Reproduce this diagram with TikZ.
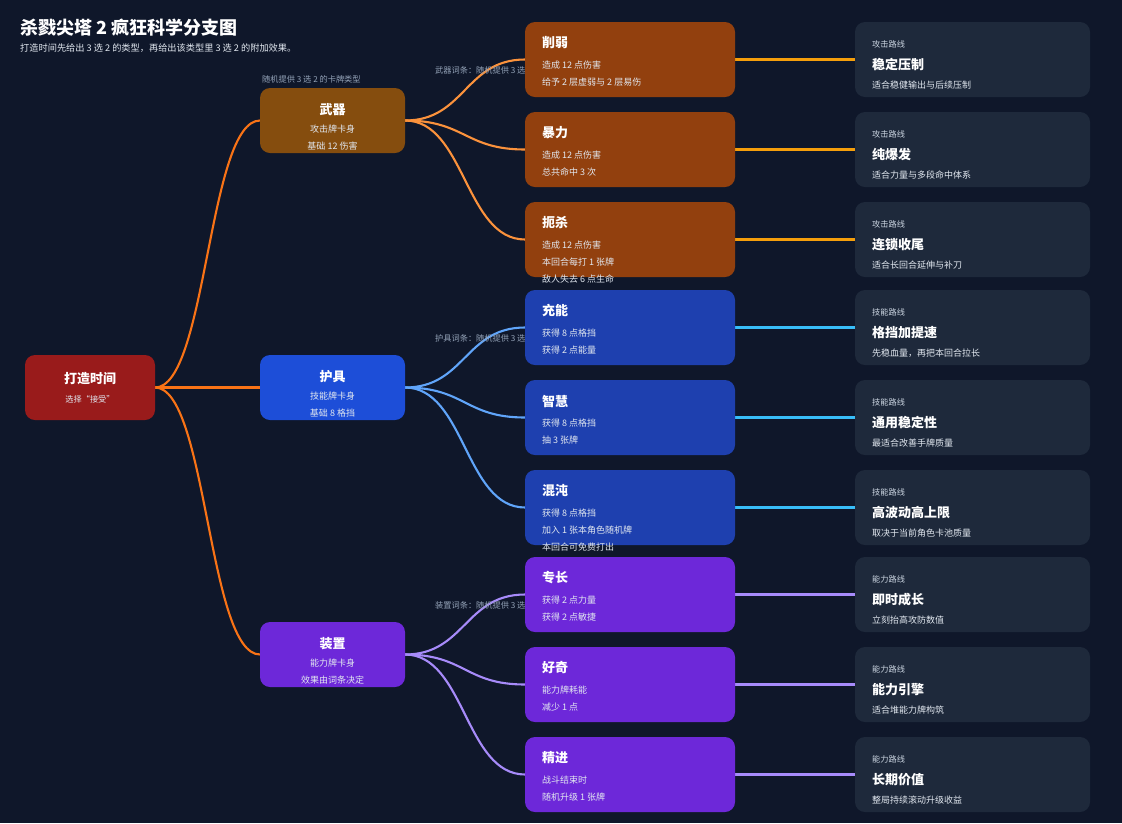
\documentclass[tikz,border=0pt]{standalone}
\usepackage{fontspec}
\setmainfont{Noto Sans CJK SC}
\definecolor{bgc}{HTML}{0F172A}
\definecolor{rootc}{HTML}{991B1B}
\definecolor{wpnc}{HTML}{854D0E}
\definecolor{wpnii}{HTML}{92400E}
\definecolor{armc}{HTML}{1D4ED8}
\definecolor{armii}{HTML}{1E40AF}
\definecolor{devc}{HTML}{6D28D9}
\definecolor{devii}{HTML}{6D28D9}
\definecolor{cardc}{HTML}{1E293B}
\definecolor{lnroot}{HTML}{F97316}
\definecolor{lnwpn}{HTML}{FB923C}
\definecolor{lnwpnii}{HTML}{F59E0B}
\definecolor{lnarm}{HTML}{60A5FA}
\definecolor{lnarmii}{HTML}{38BDF8}
\definecolor{lndev}{HTML}{A78BFA}
\definecolor{lndevii}{HTML}{A78BFA}
\definecolor{graytxt}{HTML}{94A3B8}
\definecolor{subtxt}{HTML}{E2E8F0}
\definecolor{kindtxt}{HTML}{CBD5E1}
\pgfdeclarelayer{bg}
\pgfdeclarelayer{edges}
\pgfsetlayers{bg,edges,main}
\newcommand{\fttl}{\fontsize{13}{13}\selectfont\bfseries}
\newcommand{\fsub}{\fontsize{9}{9}\selectfont}
\newcommand{\fsml}{\fontsize{8.2}{8.2}\selectfont}
\tikzset{
  box/.style={rounded corners=10pt, inner sep=0pt, outer sep=0pt},
  rootbox/.style={box, fill=rootc, minimum width=130pt, minimum height=65pt},
  lonebox/.style={box, minimum width=145pt, minimum height=65pt},
  ltwobox/.style={box, minimum width=210pt, minimum height=75pt},
  lthreebox/.style={box, fill=cardc, minimum width=235pt, minimum height=75pt},
  txt/.style={inner sep=0pt, anchor=west, text=white},
  ctxt/.style={inner sep=0pt, anchor=center, text=white},
  conn/.style={line width=2.1pt, line cap=round},
  glabel/.style={inner sep=0pt, anchor=west, text=graytxt, font=\fsml},
}
\newcommand{\Ltwo}[6]{%
  \node[ltwobox, fill=#3, anchor=north west] (#1) at (525,#2) {};
  \node[txt, font=\fttl] (#1-t) at (542,#2+21) {#4};
  \node[txt, text=subtxt, font=\fsub] (#1-a) at (542,#2+43) {#5};
  \node[txt, text=subtxt, font=\fsub] (#1-b) at (542,#2+60) {#6};
}
\newcommand{\Lthree}[5]{%
  \node[lthreebox, anchor=north west] (#1) at (855,#2) {};
  \node[txt, text=kindtxt, font=\fsml] (#1-k) at (872,#2+22) {#3};
  \node[txt, font=\fttl] (#1-t) at (872,#2+43) {#4};
  \node[txt, text=subtxt, font=\fsub] (#1-d) at (872,#2+63) {#5};
}
\newcommand{\Lone}[6]{%
  \node[lonebox, fill=#3, anchor=north west] (#1) at (260,#2) {};
  \node[ctxt, font=\fttl] (#1-t) at (332.5,#2+22) {#4};
  \node[ctxt, text=subtxt, font=\fsub] (#1-a) at (332.5,#2+41) {#5};
  \node[ctxt, text=subtxt, font=\fsub] (#1-b) at (332.5,#2+58) {#6};
}
\begin{document}
\begin{tikzpicture}[x=1pt,y=-1pt]
\begin{pgfonlayer}{bg}
\fill[bgc] (0,0) rectangle (1122,823);
\end{pgfonlayer}
\useasboundingbox (0,0) rectangle (1122,823);

% title
\node[txt, font=\fontsize{18}{18}\selectfont\bfseries] (title) at (20,28) {杀戮尖塔 2 疯狂科学分支图};
\node[txt, text=subtxt, font=\fontsize{9.2}{9.2}\selectfont] (subtitle) at (20,48) {打造时间先给出 3 选 2 的类型，再给出该类型里 3 选 2 的附加效果。};

% root
\node[rootbox, anchor=north west] (root) at (25,355) {};
\node[ctxt, font=\fttl] (root-t) at (90,379) {打造时间};
\node[ctxt, text=subtxt, font=\fsml] (root-a) at (90,399) {选择“接受”};

% level 1
\Lone{wpn}{88}{wpnc}{武器}{攻击牌卡身}{基础 12 伤害}
\Lone{arm}{355}{armc}{护具}{技能牌卡身}{基础 8 格挡}
\Lone{dev}{622}{devc}{装置}{能力牌卡身}{效果由词条决定}

% level 2
\Ltwo{wa}{22}{wpnii}{削弱}{造成 12 点伤害}{给予 2 层虚弱与 2 层易伤}
\Ltwo{wb}{112}{wpnii}{暴力}{造成 12 点伤害}{总共命中 3 次}
\Ltwo{wc}{202}{wpnii}{扼杀}{造成 12 点伤害}{本回合每打 1 张牌}
\node[txt, text=subtxt, font=\fsub] (wc-c) at (542,279) {敌人失去 6 点生命};
\Ltwo{aa}{290}{armii}{充能}{获得 8 点格挡}{获得 2 点能量}
\Ltwo{ab}{380}{armii}{智慧}{获得 8 点格挡}{抽 3 张牌}
\Ltwo{ac}{470}{armii}{混沌}{获得 8 点格挡}{加入 1 张本角色随机牌}
\node[txt, text=subtxt, font=\fsub] (ac-c) at (542,547) {本回合可免费打出};
\Ltwo{da}{557}{devii}{专长}{获得 2 点力量}{获得 2 点敏捷}
\Ltwo{db}{647}{devii}{好奇}{能力牌耗能}{减少 1 点}
\Ltwo{dc}{737}{devii}{精进}{战斗结束时}{随机升级 1 张牌}

% level 3
\Lthree{ra}{22}{攻击路线}{稳定压制}{适合稳健输出与后续压制}
\Lthree{rb}{112}{攻击路线}{纯爆发}{适合力量与多段命中体系}
\Lthree{rc}{202}{攻击路线}{连锁收尾}{适合长回合延伸与补刀}
\Lthree{rd}{290}{技能路线}{格挡加提速}{先稳血量，再把本回合拉长}
\Lthree{re}{380}{技能路线}{通用稳定性}{最适合改善手牌质量}
\Lthree{rf}{470}{技能路线}{高波动高上限}{取决于当前角色卡池质量}
\Lthree{rg}{557}{能力路线}{即时成长}{立刻抬高攻防数值}
\Lthree{rh}{647}{能力路线}{能力引擎}{适合堆能力牌构筑}
\Lthree{ri}{737}{能力路线}{长期价值}{整局持续滚动升级收益}

\begin{pgfonlayer}{edges}
% root to level 1
\draw[conn, lnroot] (root.east) .. controls +(52,0) and +(-52,0) .. (wpn.west);
\draw[conn, lnroot] (root.east) -- (arm.west);
\draw[conn, lnroot] (root.east) .. controls +(52,0) and +(-52,0) .. (dev.west);
% level 1 to level 2
\foreach \n in {wa,wb,wc}
  \draw[conn, lnwpn] (wpn.east) .. controls +(60,0) and +(-60,0) .. (\n.west);
\foreach \n in {aa,ab,ac}
  \draw[conn, lnarm] (arm.east) .. controls +(60,0) and +(-60,0) .. (\n.west);
\foreach \n in {da,db,dc}
  \draw[conn, lndev] (dev.east) .. controls +(60,0) and +(-60,0) .. (\n.west);
% level 2 to level 3
\draw[conn, lnwpnii] (wa.east) -- (ra.west);
\draw[conn, lnwpnii] (wb.east) -- (rb.west);
\draw[conn, lnwpnii] (wc.east) -- (rc.west);
\draw[conn, lnarmii] (aa.east) -- (rd.west);
\draw[conn, lnarmii] (ab.east) -- (re.west);
\draw[conn, lnarmii] (ac.east) -- (rf.west);
\draw[conn, lndevii] (da.east) -- (rg.west);
\draw[conn, lndevii] (db.east) -- (rh.west);
\draw[conn, lndevii] (dc.east) -- (ri.west);
% labels
\node[glabel] (lbl-type) at (262,79) {随机提供 3 选 2 的卡牌类型};
\node[glabel] (lbl-w) at (435,70) {武器词条：随机提供 3 选 2};
\node[glabel] (lbl-a) at (435,338) {护具词条：随机提供 3 选 2};
\node[glabel] (lbl-d) at (435,605) {装置词条：随机提供 3 选 2};
\end{pgfonlayer}
\end{tikzpicture}
\end{document}
